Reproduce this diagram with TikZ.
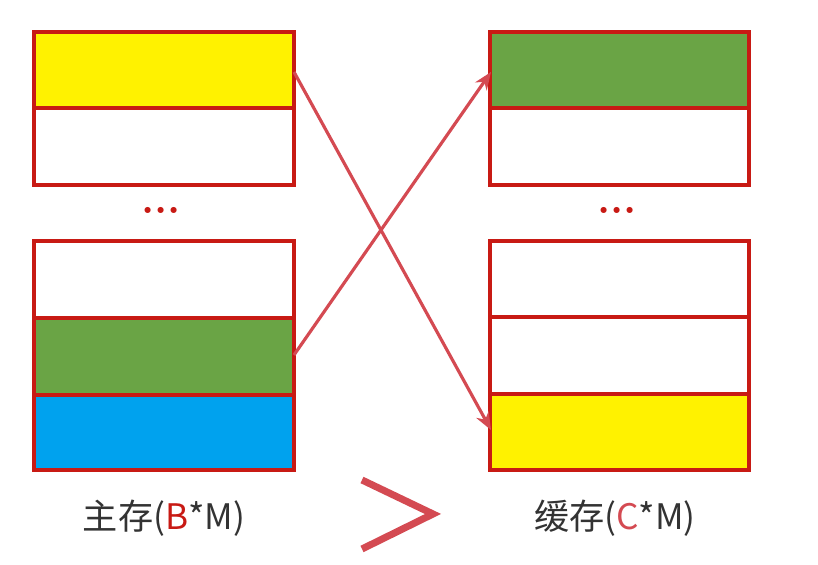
\documentclass[tikz,border=0pt]{standalone}
\usepackage{fontspec}
\newfontfamily\cjk{Noto Sans CJK SC}
\usetikzlibrary{arrows.meta}
\definecolor{bd}{HTML}{C81A14}
\definecolor{ylw}{HTML}{FFF200}
\definecolor{grn}{HTML}{6AA445}
\definecolor{blu}{HTML}{00A2EE}
\definecolor{arr}{HTML}{D44A52}
\definecolor{txt}{HTML}{333333}
\tikzset{cell/.style={draw=bd,line width=0.9pt},
 conn/.style={draw=arr,line width=0.9pt,-{Stealth[length=5pt,width=4pt]}},
 lbl/.style={font=\cjk\fontsize{10}{12}\selectfont,text=txt},
 dots/.style={font=\bfseries\fontsize{12}{12}\selectfont,text=bd}}
\begin{document}
\begin{tikzpicture}[x=0.01cm,y=-0.01cm]
\useasboundingbox (0,0) rectangle (818,565);
% left
\path[cell,fill=ylw] (34,32) rectangle (294,108);
\path[cell,fill=white] (34,108) rectangle (294,185);
\path[cell,fill=white] (34,241) rectangle (294,318);
\path[cell,fill=grn] (34,318) rectangle (294,395);
\path[cell,fill=blu] (34,395) rectangle (294,470);
% right
\path[cell,fill=grn] (490,32) rectangle (749,108);
\path[cell,fill=white] (490,108) rectangle (749,185);
\path[cell,fill=white] (490,241) rectangle (749,317);
\path[cell,fill=white] (490,317) rectangle (749,394);
\path[cell,fill=ylw] (490,394) rectangle (749,470);
\node[dots] (d1) at (161,210) {...};
\node[dots] (d2) at (617,210) {...};
\coordinate (a1) at (294,72);
\coordinate (a2) at (491,430);
\coordinate (b1) at (294,355);
\coordinate (b2) at (491,72);
\draw[conn] (a1) -- (a2);
\draw[conn] (b1) -- (b2);
\node[lbl] (l1) at (164,518) {主存(\textcolor{bd}{B}*M)};
\node[lbl] (l2) at (615,518) {缓存(\textcolor{arr}{C}*M)};
\coordinate (g1) at (362,480);
\coordinate (g2) at (433,514);
\coordinate (g3) at (362,549);
\draw[draw=arr,line width=2pt] (g1) -- (g2) -- (g3);
\end{tikzpicture}
\end{document}
